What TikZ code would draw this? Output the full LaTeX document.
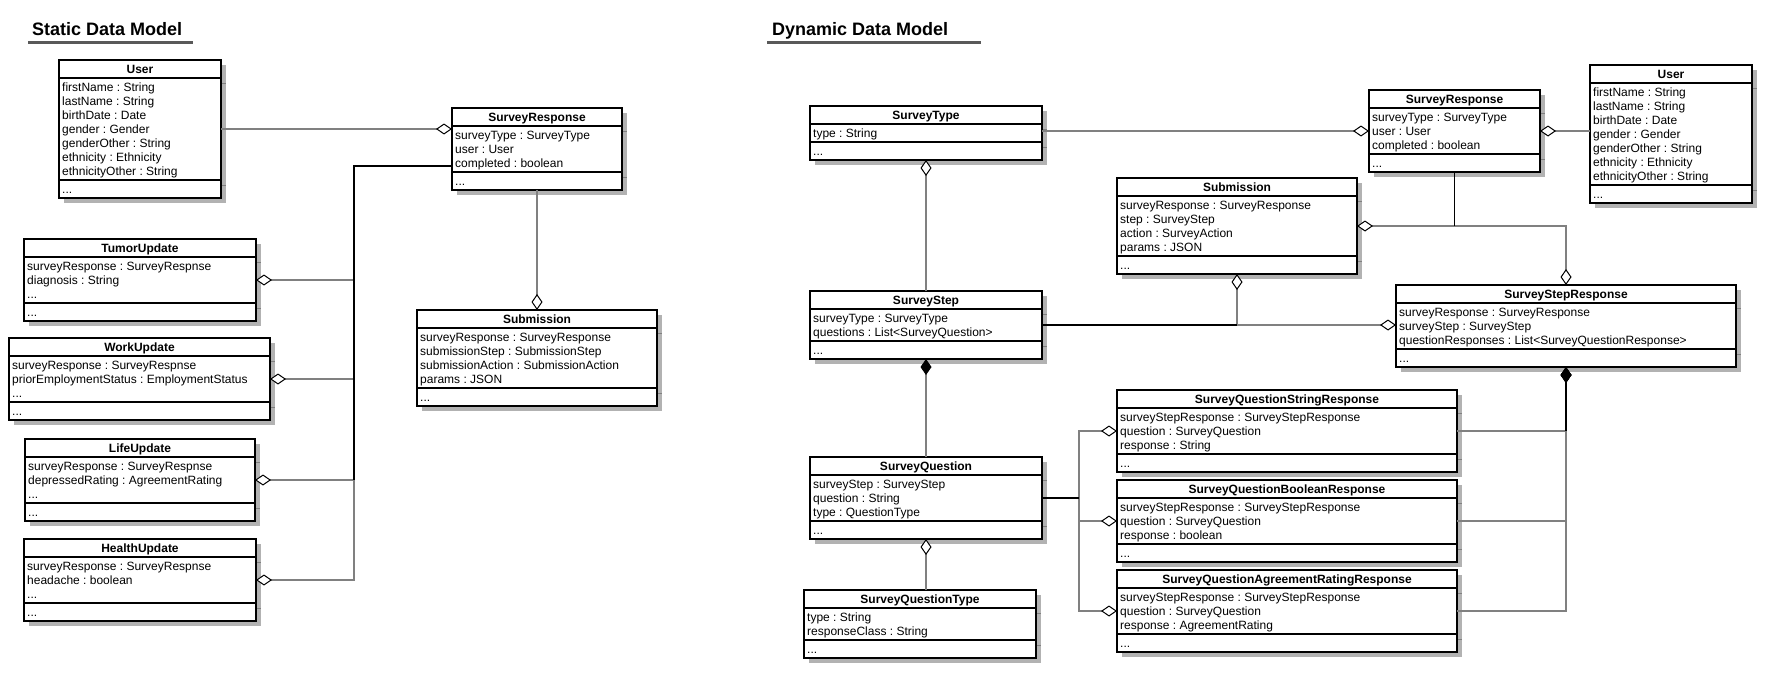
\documentclass[tikz,border=0pt]{standalone}
\usepackage{fontspec}
\setmainfont{Liberation Sans}
\usetikzlibrary{arrows.meta,shadows,calc}
\frenchspacing
\tikzset{
  umlbox/.style={draw=black, line width=2pt, fill=white, inner sep=0pt, outer sep=0pt,
     drop shadow={shadow xshift=5pt, shadow yshift=-5pt, fill=black!30, opacity=1}},
  divider/.style={black, line width=2pt},
  shline/.style={black!50, line width=1pt},
  umltitle/.style={font=\fontsize{12}{14}\selectfont\bfseries, inner sep=0pt},
  umlattr/.style={font=\fontsize{12}{14}\selectfont, inner sep=0pt},
  conn/.style={black!50, line width=1.3pt},
  connk/.style={black, line width=1.3pt},
  aggrend/.style={-{Diamond[length=16pt,width=11pt,line width=1pt,color=black,fill=white]}},
  compend/.style={-{Diamond[length=16pt,width=11pt,line width=1pt,color=black]}},
  heading/.style={font=\fontsize{18}{20}\selectfont\bfseries, inner sep=0pt, anchor=base west},
  headline/.style={black!65, line width=3pt},
}
\newcommand\tdots{...}
% #1 name, #2 x, #3 y, #4 width, #5 title, #6 number of rows, #7 rows
\newcommand\umlclass[7]{%
  \pgfmathsetmacro\umlH{18+#6*14+4+18}%
  \pgfmathsetmacro\umlA{#3+18}%
  \pgfmathsetmacro\umlB{#3+18+#6*14+4}%
  \node[umlbox, minimum width=#4pt, minimum height=\umlH pt, anchor=north west] (#1) at (#2,#3) {};
  \draw[divider] (#2,\umlA) -- ++(#4,0);
  \draw[divider] (#2,\umlB) -- ++(#4,0);
  \draw[shline] (#2+#4+1,\umlA+5) -- ++(4,0);
  \draw[shline] (#2+#4+1,\umlB+5) -- ++(4,0);
  \node[umltitle, anchor=base] (#1-t) at (#2+#4/2,#3+13) {#5};
  \foreach \r [count=\i from 0] in {#7} {\node[umlattr, anchor=base west] (#1-a\i) at (#2+3,#3+18+2+7+4+14*\i) {\r};}
  \node[umlattr, anchor=base west] (#1-m) at (#2+3,\umlB+13) {\tdots};
}
\begin{document}
\begin{tikzpicture}[x=1pt,y=-1pt]
\useasboundingbox (0,0) rectangle (1774,680);
\fill[white] (0,0) rectangle (1774,680);

% headings
\node[heading] (h1) at (32,35) {Static Data Model};
\draw[headline] (28,42) -- (193,42);
\node[heading] (h2) at (772,35) {Dynamic Data Model};
\draw[headline] (767,42) -- (981,42);

% ---------- static model ----------
\umlclass{user}{59}{60}{162}{User}{7}{firstName : String,lastName : String,birthDate : Date,gender : Gender,genderOther : String,ethnicity : Ethnicity,ethnicityOther : String}
\umlclass{sresp}{452}{108}{170}{SurveyResponse}{3}{surveyType : SurveyType,user : User,completed : boolean}
\umlclass{ssub}{417}{310}{240}{Submission}{4}{surveyResponse : SurveyResponse,submissionStep : SubmissionStep,submissionAction : SubmissionAction,params : JSON}
\umlclass{tumor}{24}{239}{232}{TumorUpdate}{3}{surveyResponse : SurveyRespnse,diagnosis : String,\tdots}
\umlclass{work}{9}{338}{261}{WorkUpdate}{3}{surveyResponse : SurveyRespnse,priorEmploymentStatus : EmploymentStatus,\tdots}
\umlclass{life}{25}{439}{230}{LifeUpdate}{3}{surveyResponse : SurveyRespnse,depressedRating : AgreementRating,\tdots}
\umlclass{health}{24}{539}{232}{HealthUpdate}{3}{surveyResponse : SurveyRespnse,headache : boolean,\tdots}

% ---------- dynamic model ----------
\umlclass{stype}{810}{106}{232}{SurveyType}{1}{type : String}
\umlclass{sstep}{810}{291}{232}{SurveyStep}{2}{surveyType : SurveyType,questions : List<SurveyQuestion>}
\umlclass{squest}{810}{457}{232}{SurveyQuestion}{3}{surveyStep : SurveyStep,question : String,type : QuestionType}
\umlclass{sqtype}{804}{590}{232}{SurveyQuestionType}{2}{type : String,responseClass : String}
\umlclass{dsresp}{1369}{90}{171}{SurveyResponse}{3}{surveyType : SurveyType,user : User,completed : boolean}
\umlclass{duser}{1590}{65}{162}{User}{7}{firstName : String,lastName : String,birthDate : Date,gender : Gender,genderOther : String,ethnicity : Ethnicity,ethnicityOther : String}
\umlclass{dsub}{1117}{178}{240}{Submission}{4}{surveyResponse : SurveyResponse,step : SurveyStep,action : SurveyAction,params : JSON}
\umlclass{ssr}{1396}{285}{340}{SurveyStepResponse}{3}{surveyResponse : SurveyResponse,surveyStep : SurveyStep,questionResponses : List<SurveyQuestionResponse>}
\umlclass{qstr}{1117}{390}{340}{SurveyQuestionStringResponse}{3}{surveyStepResponse : SurveyStepResponse,question : SurveyQuestion,response : String}
\umlclass{qbool}{1117}{480}{340}{SurveyQuestionBooleanResponse}{3}{surveyStepResponse : SurveyStepResponse,question : SurveyQuestion,response : boolean}
\umlclass{qagr}{1117}{570}{340}{SurveyQuestionAgreementRatingResponse}{3}{surveyStepResponse : SurveyStepResponse,question : SurveyQuestion,response : AgreementRating}

% ---------- static connectors ----------
\draw[conn, aggrend] (user.east) -- (user.east -| sresp.west);
\coordinate (sbus) at (354,166);
\foreach \u in {tumor,work,life,health}
  \draw[conn, aggrend] (sresp.west |- sbus) -- (sbus) -- (sbus |- \u.east) -- (\u.east);
\draw[connk] (sresp.west |- sbus) -- (sbus) -- (sbus |- life.east);
\draw[conn, aggrend] (sresp.south) -- (sresp.south |- ssub.north);

% ---------- dynamic connectors ----------
\draw[conn, aggrend] (stype.east |- dsresp.west) -- (dsresp.west);
\draw[conn, aggrend] (duser.west |- dsresp.east) -- (dsresp.east);
\coordinate (rj) at (dsresp.south |- dsub.east);
\coordinate (rj2) at (ssr.north |- dsub.east);
\draw[conn, aggrend] (dsresp.south) -- (rj) -- (dsub.east);
\draw[conn, aggrend] (dsresp.south) -- (rj) -- (rj2) -- (ssr.north);
\draw[connk] (dsresp.south) -- (rj);
\coordinate (sj) at (dsub.south |- sstep.east);
\draw[conn, aggrend] (sstep.east) -- (sj) -- (dsub.south);
\draw[conn, aggrend] (sstep.east) -- (sj) -- (sj -| ssr.west);
\draw[connk] (sstep.east) -- (sj);
\draw[conn, aggrend] (sstep.north) -- (stype.south);
\draw[conn, compend] (squest.north) -- (sstep.south);
\draw[conn, aggrend] (squest.south |- sqtype.north) -- (squest.south);
\path (squest.east) ++(37,0) coordinate (qj);
\foreach \q in {qstr,qbool,qagr}
  \draw[conn, aggrend] (squest.east) -- (qj) -- (qj |- \q.west) -- (\q.west);
\draw[connk] (squest.east) -- (qj);
\foreach \q in {qstr,qbool,qagr}
  \draw[conn, compend] (\q.east) -- (\q.east -| ssr.south) -- (ssr.south);
\draw[connk, shorten >=14pt] (qstr.east -| ssr.south) -- (ssr.south);
\end{tikzpicture}
\end{document}
